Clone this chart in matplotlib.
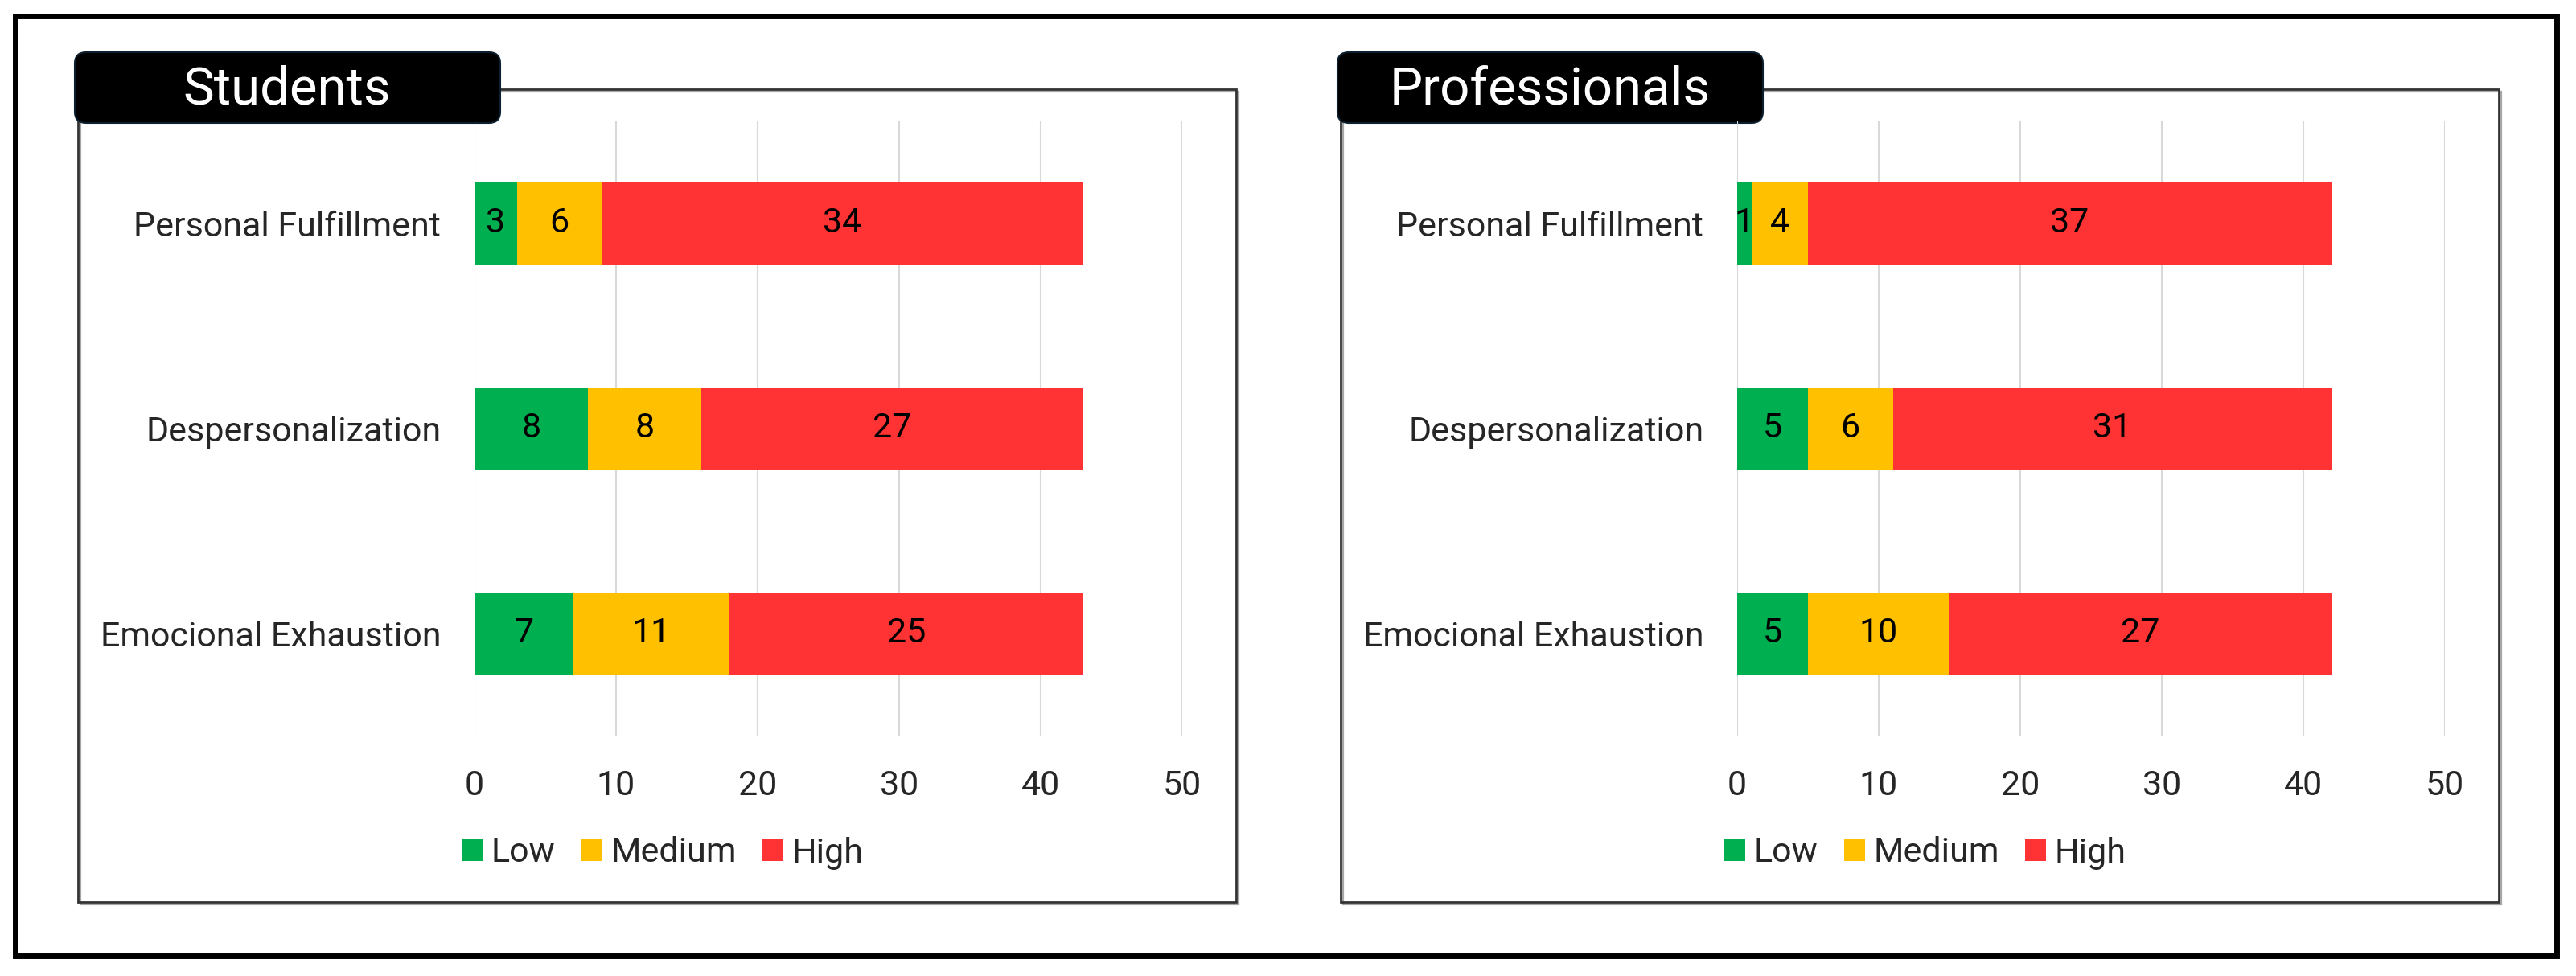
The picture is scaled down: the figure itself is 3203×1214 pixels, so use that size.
import matplotlib.pyplot as plt
from matplotlib.patches import Rectangle, FancyBboxPatch

# Datos
categories = ["Emocional Exhaustion", "Despersonalization", "Personal Fulfillment"]
levels = ["Low", "Medium", "High"]
students_low = [7, 8, 3]
students_medium = [11, 8, 6]
students_high = [25, 27, 34]
prof_low = [5, 5, 1]
prof_medium = [10, 6, 4]
prof_high = [27, 31, 37]
x_ticks = [0, 10, 20, 30, 40, 50]
colors = ["#00B050", "#FFC000", "#FF3333"]

plt.rcParams['font.family'] = ['Roboto', 'DejaVu Sans']
FS = 31
TXT = '#262626'

W, H = 3203, 1214
fig = plt.figure(figsize=(W / 100, H / 100), dpi=100)

# fondo en pixeles
bg = fig.add_axes([0, 0, 1, 1])
bg.set_xlim(0, W)
bg.set_ylim(H, 0)
bg.axis('off')

# marco exterior
bg.add_patch(Rectangle((18.5, 20), 3160, 1168.5, fill=False, lw=5, ec='black'))


def panel(dx, title, low, med, high):
    # caja del grafico con sombra
    bg.add_patch(Rectangle((97 + dx + 3, 111 + 3), 1440, 1011, fill=False, lw=1.6, ec='#A6A6A6'))
    bg.add_patch(Rectangle((97 + dx, 111), 1440, 1011, fill=False, lw=2.0, ec='#333333'))
    # etiqueta del titulo
    bg.add_patch(FancyBboxPatch((93 + dx, 65), 529, 88,
                                boxstyle="round,pad=0,rounding_size=14",
                                fc='black', ec='#0B1F2E', lw=1.5, zorder=3))
    bg.text(357 + dx, 129, title, color='white', fontsize=47,
            ha='center', va='baseline', zorder=4)

    ax = fig.add_axes([(590 + dx) / W, 1 - 915 / H, 880 / W, 765 / H])
    ax.set_facecolor('none')
    y = range(len(categories))
    left = [0] * len(categories)
    handles = []
    for vals, col, lab in zip([low, med, high], colors, levels):
        bars = ax.barh(y, vals, left=left, height=0.4, color=col, label=lab)
        ax.bar_label(bars, label_type='center', fontsize=FS, color='black')
        left = [a + b for a, b in zip(left, vals)]
        handles.append(bars)
    ax.set_xlim(0, 50)
    ax.set_ylim(-0.5, 2.5)
    ax.set_xticks(x_ticks)
    ax.set_yticks(list(y))
    ax.set_yticklabels(categories)
    ax.grid(axis='x', color='#D9D9D9', lw=1.5)
    ax.set_axisbelow(True)
    for s in ax.spines.values():
        s.set_visible(False)
    ax.tick_params(axis='x', length=0, pad=30, labelsize=FS, labelcolor=TXT)
    ax.tick_params(axis='y', length=0, pad=30, labelsize=FS, labelcolor=TXT)

    bg.legend(handles, levels, loc='center', ncol=3, frameon=False,
              bbox_to_anchor=((824 + dx) / W, 1 - 1061 / H),
              fontsize=FS, labelcolor=TXT, handlelength=0.6, handleheight=0.6,
              handletextpad=0.25, columnspacing=0.75)
    return ax


panel(0, "Students", students_low, students_medium, students_high)
leg1 = bg.get_legend()
panel(1570, "Professionals", prof_low, prof_medium, prof_high)
bg.add_artist(leg1)

fig.savefig("out.png", dpi=100)
